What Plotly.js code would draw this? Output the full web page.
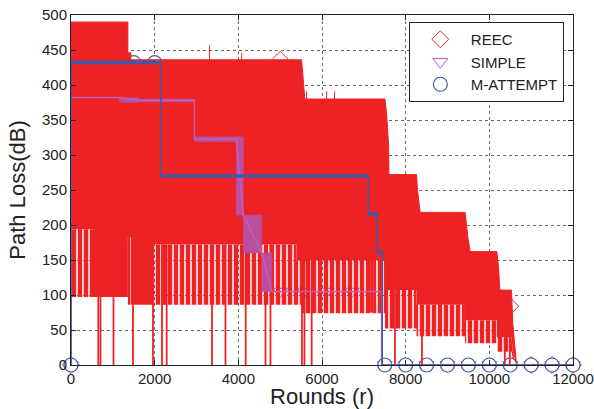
<!DOCTYPE html>
<html>
<head>
<meta charset="utf-8">
<script src="https://cdn.plot.ly/plotly-3.0.1.min.js"></script>
<style>html,body{margin:0;padding:0;background:#fff;}#chart{width:594px;height:409px;}</style>
</head>
<body>
<div id="chart"></div>
<script>
// ---- axes ----
const xTicks = [0, 2000, 4000, 6000, 8000, 10000, 12000];
const yTicks = [0, 50, 100, 150, 200, 250, 300, 350, 400, 450, 500];

// ---- REEC: dense oscillation read as envelopes (top / solid band bottom / comb floor) ----
const reecX     = [0, 550, 550, 1360, 1360, 1430, 1430, 1960, 1960, 5390, 5390, 5510, 5510, 5530, 5560, 5590, 7150, 7150, 7240, 7240, 7505, 7505, 7545, 7593, 7600, 8260, 8260, 8283, 8307, 8330, 8347, 9420, 9420, 9440, 9490, 9540, 10180, 10180, 10220, 10250, 10530, 10560, 10650];
const reecTop   = [490, 490, 490, 490, 446, 446, 436, 436, 436, 436, 436, 436, 436, 424, 401, 380, 380, 380, 380, 380, 380, 380, 358, 314, 272, 272, 272, 250, 240, 228, 218, 218, 218, 205, 181, 162, 162, 162, 140, 107, 107, 60, 0];
const reecBand  = [194, 194, 97, 97, 183, 183, 86, 86, 172, 172, 150, 150, 150, 150, 150, 150, 150, 75, 75, 150, 150, 107, 107, 107, 107, 107, 86, 86, 86, 86, 86, 86, 64, 64, 64, 64, 64, 40, 40, 40, 40, 19, 0];
const reecFloor = [97, 97, 97, 97, 86, 86, 86, 86, 86, 86, 86, 86, 74, 74, 74, 74, 74, 75, 75, 74, 74, 52, 52, 52, 52, 52, 41, 41, 41, 41, 41, 41, 31, 31, 31, 31, 31, 19, 19, 19, 19, 10, 0];
// REEC drops to zero
const reecZeroX   = [652, 705, 1016, 1482, 1960, 2175, 2287, 3370, 3693, 4175, 4649, 4768, 5521, 5581, 5753, 7744, 8389, 10370, 10490];
const reecZeroTop = [194, 97, 97, 86, 172, 172, 172, 172, 172, 172, 172, 172, 150, 150, 150, 107, 86, 40, 40];
// REEC upward peaks above the envelope
const reecPeakX = [3310, 4080, 5630, 6110, 6300];
const reecPeakY = [457, 446, 391, 391, 391];
// REEC markers
const reecMarkX = [0, 5000, 10500, 11000, 11500, 12000];
const reecMarkY = [0, 436, 84, 0, 0, 0];

// ---- SIMPLE ----
const simpleX = [0, 0, 1155, 1630, 2950, 2950, 3950, 4120, 4560, 4800, 7425, 7425, 12000];
const simpleY = [0, 382, 382, 378, 378, 323, 323, 214, 160, 105, 105, 0, 0];
// noisy stretches of SIMPLE (x from, x to, y low, y high)
const simpleBandX0 = [1155, 1630, 2950, 3950, 4120, 4560];
const simpleBandX1 = [1630, 2950, 3950, 4120, 4560, 4800];
const simpleBandLo = [375, 376, 319, 214, 160, 105];
const simpleBandHi = [382, 380, 326, 326, 214, 160];
const simpleMarkX = [0, 5000, 5590, 6110, 6710, 7500, 8000, 8500, 9000, 9500, 10000, 10500, 11000, 11500, 12000];
const simpleMarkY = [0, 105, 105, 105, 105, 0, 0, 0, 0, 0, 0, 0, 0, 0, 0];

// ---- M-ATTEMPT ----
const mattX = [0, 0, 2150, 2150, 7106, 7106, 7322, 7322, 7440, 7440, 12000];
const mattY = [0, 432, 432, 270, 270, 216, 216, 161, 161, 0, 0];
// noisy levels of M-ATTEMPT (x from, x to, level)
const mattLevelX0 = [0, 2150, 7106, 7322];
const mattLevelX1 = [2150, 7106, 7322, 7440];
const mattLevelY  = [432, 270, 216, 161];
const mattMarkX = [0, 1500, 2000, 7500, 8000, 8500, 9000, 9500, 10000, 10500, 11000, 11500, 12000];
const mattMarkY = [0, 432, 432, 0, 0, 0, 0, 0, 0, 0, 0, 0, 0];

// ---- colours ----
const RED = '#ee2225', MAG = '#bb4f9f', MAGL = '#c45db2', BLUE = '#3b5ba9';

function segs(x0, x1, y0, y1) {
  const X = [], Y = [];
  for (let i = 0; i < x0.length; i++) { X.push(x0[i], x1[i], null); Y.push(y0[i], y1[i], null); }
  return {X, Y};
}
function rects(x0, x1, lo, hi) {
  const X = [], Y = [];
  for (let i = 0; i < x0.length; i++) {
    X.push(x0[i], x1[i], x1[i], x0[i], x0[i], null);
    Y.push(lo[i], lo[i], hi[i], hi[i], lo[i], null);
  }
  return {X, Y};
}

const zeroSp = segs(reecZeroX, reecZeroX, reecZeroX.map(() => 0), reecZeroTop);
const peakSp = segs(reecPeakX, reecPeakX, reecPeakX.map(() => 300), reecPeakY);
const sBands = rects(simpleBandX0, simpleBandX1, simpleBandLo, simpleBandHi);
const mLev = segs(mattLevelX0, mattLevelX1, mattLevelY, mattLevelY);

const traces = [
  {x: reecMarkX, y: reecMarkY, mode: 'markers', name: 'REEC', cliponaxis: false,
   marker: {symbol: 'diamond-open', size: 13, color: RED, line: {width: 1, color: RED}}},
  {x: simpleMarkX, y: simpleMarkY, mode: 'markers', name: 'SIMPLE', cliponaxis: false,
   marker: {symbol: 'triangle-down-open', size: 13, color: MAGL, line: {width: 1, color: MAGL}}},
  {x: mattMarkX, y: mattMarkY, mode: 'markers', name: 'M-ATTEMPT', cliponaxis: false,
   marker: {symbol: 'circle', size: 14, color: 'white', line: {width: 1.2, color: BLUE}}},
  // REEC envelope
  {x: reecX, y: reecFloor, mode: 'lines', line: {width: 0, color: RED}, showlegend: false, hoverinfo: 'skip'},
  {x: reecX, y: reecBand, mode: 'lines', line: {width: 0, color: RED}, fill: 'tonexty', fillcolor: 'rgba(0,0,0,0)',
   fillpattern: {shape: '|', size: 6, solidity: 0.75, fgcolor: RED, bgcolor: 'rgba(0,0,0,0)'},
   showlegend: false, hoverinfo: 'skip'},
  {x: reecX, y: reecTop, mode: 'lines', line: {width: 1, color: RED}, fill: 'tonexty', fillcolor: RED,
   showlegend: false, hoverinfo: 'skip'},
  {x: zeroSp.X, y: zeroSp.Y, mode: 'lines', line: {width: 1.8, color: RED}, showlegend: false, hoverinfo: 'skip'},
  {x: peakSp.X, y: peakSp.Y, mode: 'lines', line: {width: 1, color: RED}, showlegend: false, hoverinfo: 'skip'},
  // SIMPLE
  {x: sBands.X, y: sBands.Y, mode: 'lines', line: {width: 0.5, color: MAG}, fill: 'toself', fillcolor: MAG,
   showlegend: false, hoverinfo: 'skip'},
  {x: simpleX, y: simpleY, mode: 'lines', line: {width: 1.5, color: MAGL}, showlegend: false, hoverinfo: 'skip'},
  // M-ATTEMPT
  {x: mattX, y: mattY, mode: 'lines', line: {width: 1.5, color: BLUE}, showlegend: false, hoverinfo: 'skip'},
  {x: mLev.X, y: mLev.Y, mode: 'lines', line: {width: 3.5, color: BLUE}, showlegend: false, hoverinfo: 'skip'}
];

const axisCommon = {
  ticks: 'inside', ticklen: 5, tickwidth: 1, tickcolor: '#222',
  showline: true, linecolor: '#222', linewidth: 1, mirror: 'ticks',
  showgrid: true, gridcolor: '#666', griddash: 'dot', gridwidth: 1,
  zeroline: false, automargin: false,
  tickfont: {size: 15, color: '#222'}
};

const layout = {
  width: 594, height: 409,
  margin: {l: 71, r: 21, t: 15, b: 44, pad: 0},
  paper_bgcolor: 'white', plot_bgcolor: 'white',
  font: {family: 'Liberation Sans, Arial, Helvetica, sans-serif', size: 15, color: '#222'},
  xaxis: Object.assign({}, axisCommon, {
    range: [0, 12000], tickmode: 'array', tickvals: xTicks, ticktext: xTicks.map(String),
    title: {text: 'Rounds (r)', font: {size: 22, color: '#222'}, standoff: 7}
  }),
  yaxis: Object.assign({}, axisCommon, {
    range: [0, 500], tickmode: 'array', tickvals: yTicks, ticktext: yTicks.map(String),
    title: {text: 'Path Loss(dB)', font: {size: 22, color: '#222'}, standoff: 10}
  }),
  showlegend: true,
  legend: {x: 0.673, y: 0.98, xanchor: 'left', yanchor: 'top', bgcolor: 'white',
           bordercolor: '#222', borderwidth: 1, font: {size: 15, color: '#222'},
           itemwidth: 51, tracegroupgap: 0, traceorder: 'normal'}
};

Plotly.newPlot('chart', traces, layout, {staticPlot: true, displayModeBar: false});
</script>
</body>
</html>
